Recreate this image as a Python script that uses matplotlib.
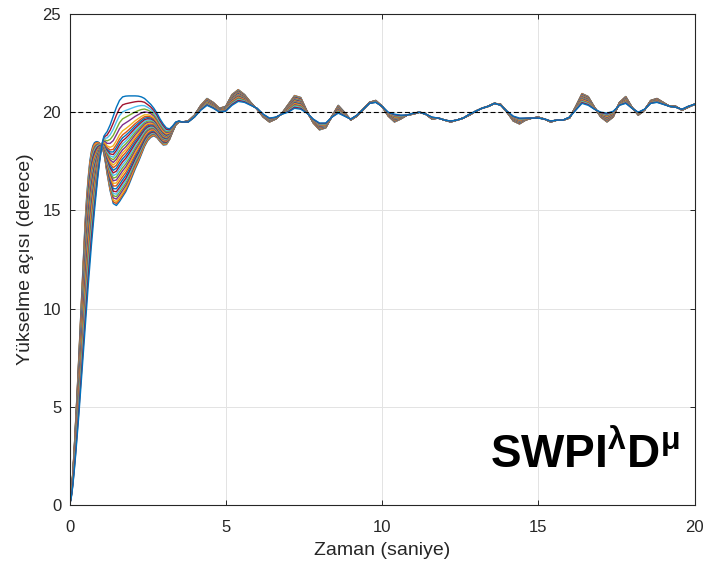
import numpy as np
import matplotlib
matplotlib.use("Agg")
import matplotlib.pyplot as plt

plt.rcParams['font.family'] = ['Liberation Sans', 'DejaVu Sans']
plt.rcParams['mathtext.fontset'] = 'custom'
plt.rcParams['mathtext.rm'] = 'Liberation Sans'
plt.rcParams['mathtext.bf'] = 'Liberation Sans:bold'
plt.rcParams['mathtext.it'] = 'Liberation Sans:italic'

# time axis (s)
t = [0.00, 0.05, 0.10, 0.15, 0.20, 0.25, 0.30, 0.35, 0.40, 0.45, 0.50, 0.55,
     0.60, 0.65, 0.70, 0.75, 0.80, 0.85, 0.90, 0.95, 1.00, 1.05, 1.10, 1.15, 1.20,
     1.3, 1.4, 1.5, 1.6, 1.7, 1.8, 1.9, 2.0, 2.1, 2.2, 2.3, 2.4, 2.5, 2.6, 2.7,
     2.8, 2.9, 3.0, 3.1, 3.2, 3.3, 3.4, 3.5, 3.6,
     3.8, 4.0, 4.2, 4.4, 4.6, 4.8, 5.0, 5.2, 5.4, 5.6, 5.8, 6.0, 6.2, 6.4, 6.6,
     6.8, 7.0, 7.2, 7.4, 7.6, 7.8, 8.0, 8.2, 8.4, 8.6, 8.8, 9.0, 9.2, 9.4, 9.6,
     9.8, 10.0, 10.2, 10.4, 10.6, 10.8, 11.0, 11.2, 11.4, 11.6, 11.8, 12.0, 12.2,
     12.4, 12.6, 12.8, 13.0, 13.2, 13.4, 13.6, 13.8, 14.0, 14.2, 14.4, 14.6, 14.8,
     15.0, 15.2, 15.4, 15.6, 15.8, 16.0, 16.2, 16.4, 16.6, 16.8, 17.0, 17.2, 17.4,
     17.6, 17.8, 18.0, 18.2, 18.4, 18.6, 18.8, 19.0, 19.2, 19.4, 19.6, 19.8, 20.0]

# fastest response: deepest dip, largest oscillation (deg)
fast = [0.0, 0.5, 1.5, 2.8, 4.3, 5.9, 7.6, 9.3, 11.0, 12.8, 14.4, 15.7,
        16.7, 17.5, 18.0, 18.3, 18.45, 18.5, 18.5, 18.45, 18.35, 18.2, 17.9, 17.45, 16.9,
        16.0, 15.35, 15.25, 15.45, 15.7, 15.95, 16.3, 16.7, 17.1, 17.45, 17.85, 18.25, 18.55, 18.72, 18.8,
        18.7, 18.5, 18.33, 18.35, 18.6, 19.0, 19.35, 19.5, 19.5,
        19.55, 19.85, 20.35, 20.7, 20.5, 20.2, 20.3, 20.9, 21.15, 20.9, 20.5, 20.15, 19.75, 19.5, 19.65,
        19.95, 20.4, 20.85, 20.75, 20.05, 19.45, 19.1, 19.2, 19.8, 20.35, 20.0, 19.6, 19.8, 20.15, 20.5,
        20.6, 20.3, 19.8, 19.5, 19.65, 19.85, 19.9, 20.0, 19.9, 19.65, 19.7, 19.6, 19.5,
        19.6, 19.7, 19.85, 20.05, 20.2, 20.3, 20.45, 20.4, 20.0, 19.55, 19.4, 19.6, 19.7,
        19.75, 19.65, 19.5, 19.6, 19.6, 19.7, 20.3, 20.95, 20.8, 20.25, 19.75, 19.5, 19.75,
        20.5, 20.8, 20.25, 19.85, 20.1, 20.6, 20.7, 20.5, 20.3, 20.3, 20.1, 20.25, 20.4]

# slowest response: highest first plateau, smallest oscillation (deg)
slow = [0.0, 0.3, 0.9, 1.7, 2.6, 3.6, 4.6, 5.7, 6.8, 7.9, 9.0, 10.1,
        11.2, 12.2, 13.2, 14.1, 15.0, 15.8, 16.6, 17.3, 17.9, 18.45, 18.78, 18.9, 19.0,
        19.35, 19.8, 20.25, 20.6, 20.78, 20.82, 20.83, 20.83, 20.83, 20.82, 20.78, 20.7, 20.55, 20.4, 20.2,
        19.95, 19.65, 19.4, 19.2, 19.15, 19.3, 19.5, 19.55, 19.5,
        19.5, 19.75, 20.1, 20.35, 20.2, 20.0, 20.05, 20.35, 20.55, 20.5, 20.35, 20.2, 19.9, 19.7, 19.75,
        19.9, 20.0, 20.2, 20.15, 19.95, 19.65, 19.45, 19.45, 19.75, 19.95, 19.8, 19.65, 19.85, 20.15, 20.45,
        20.5, 20.3, 20.0, 19.9, 19.85, 19.85, 19.95, 20.0, 19.9, 19.75, 19.7, 19.6, 19.55,
        19.6, 19.7, 19.9, 20.05, 20.2, 20.3, 20.45, 20.35, 20.05, 19.8, 19.7, 19.7, 19.7,
        19.7, 19.65, 19.55, 19.6, 19.6, 19.75, 20.1, 20.45, 20.35, 20.15, 20.0, 19.95, 20.05,
        20.35, 20.45, 20.2, 20.0, 20.15, 20.45, 20.5, 20.4, 20.3, 20.25, 20.15, 20.3, 20.4]

# position of each run between the fastest (0) and slowest (1) response
fan_w = [0.0, 0.02, 0.04, 0.065, 0.09, 0.115, 0.14, 0.17, 0.20, 0.23, 0.26, 0.29,
         0.32, 0.35, 0.38, 0.41, 0.44, 0.47, 0.50, 0.53, 0.56, 0.59, 0.62, 0.66,
         0.72, 0.78, 0.85, 0.92, 1.0]

reference = 20.0

matlab_colors = ['#0072BD', '#D95319', '#EDB120', '#7E2F8E', '#77AC30', '#4DBEEE', '#A2142F']

t = np.array(t)
fast = np.array(fast)
slow = np.array(slow)

fig = plt.figure(figsize=(7.08, 5.71), dpi=100)
ax = fig.add_axes([69.5 / 708, 66 / 571, 625 / 708, 491 / 571])

for k, w in enumerate(fan_w):
    y = (1 - w) * fast + w * slow
    ax.plot(t, y, color=matlab_colors[k % 7], lw=1.0)

ax.axhline(reference, color='k', ls='--', lw=0.8, dashes=(4.5, 2.5), zorder=5)

ax.set_xlim(0, 20)
ax.set_ylim(0, 25)
ax.set_xticks([0, 5, 10, 15, 20])
ax.set_yticks([0, 5, 10, 15, 20, 25])
ax.grid(True, color='#E3E3E3', lw=0.7)
ax.set_axisbelow(True)

for s in ax.spines.values():
    s.set_color('#262626')
    s.set_linewidth(0.8)
ax.tick_params(direction='in', length=3.5, width=0.7, colors='#262626',
               labelsize=12, top=True, right=True)
ax.tick_params(axis='x', pad=11)
ax.tick_params(axis='y', pad=6)

ax.set_xlabel('Zaman (saniye)', fontsize=14, color='#262626', labelpad=5)
ax.set_ylabel('Yükselme açısı (derece)', fontsize=14, color='#262626', labelpad=6)

ax.text(0.977, 0.077, r'$\mathbf{SWPI^{\lambda}D^{\mu}}$', transform=ax.transAxes,
        ha='right', va='baseline', fontsize=33, color='k')

fig.savefig('out.png', dpi=100)
